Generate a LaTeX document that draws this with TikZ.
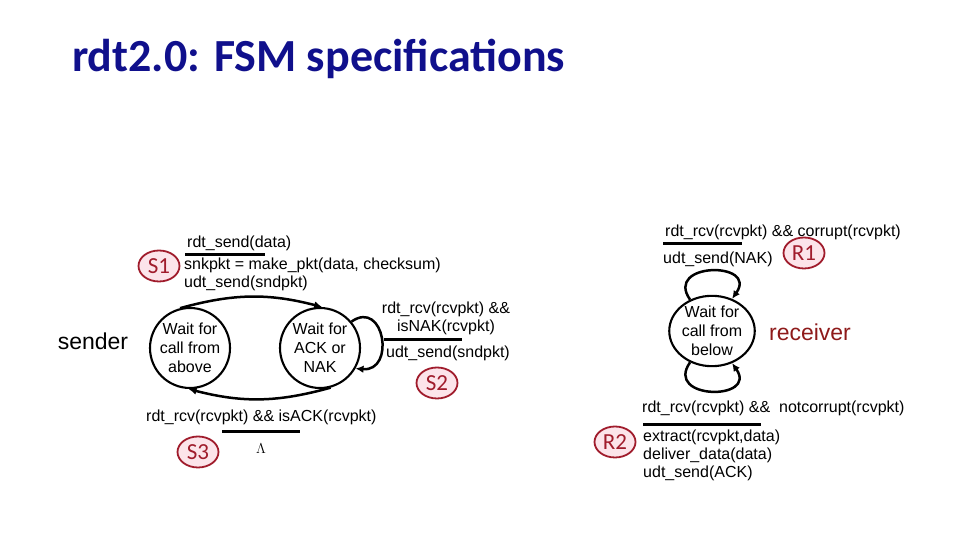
\documentclass[tikz,border=0pt]{standalone}
\usepackage{fontspec}
\setmainfont{Liberation Sans}
\newfontfamily\titlefont{Carlito}
\usepackage{xcolor}
\definecolor{ttl}{HTML}{10108C}
\definecolor{tagred}{HTML}{A01C2C}
\definecolor{tagpink}{HTML}{FCE4EA}
\definecolor{rcv}{HTML}{8E1A1A}
\usepackage{tikz}
\usetikzlibrary{arrows.meta,shapes.geometric}
\newcommand\lblsize{\fontsize{16}{18}\selectfont}
\newcommand\statesize{\fontsize{16}{19}\selectfont}
\tikzset{
  >={Latex[length=8pt,width=7.5pt]},
  state/.style={circle,draw,line width=2.1pt,minimum size=80pt,inner sep=0pt,align=center,font=\statesize},
  tag/.style={ellipse,draw=tagred,fill=tagpink,line width=1.8pt,minimum width=41pt,minimum height=31pt,inner sep=0pt,text=tagred,font=\titlefont\fontsize{23}{23}\selectfont},
  lab/.style={font=\lblsize,inner sep=0pt,align=left},
  bar/.style={line width=3pt},
  arr/.style={->,line width=2.5pt},
  side/.style={font=\fontsize{23}{23}\selectfont,inner sep=0pt},
}
\begin{document}
\begin{tikzpicture}[x=1pt,y=1pt]
\useasboundingbox (0,0) rectangle (960,540);
\node[anchor=base west,inner sep=0pt,text=ttl,font=\titlefont\bfseries\fontsize{46}{46}\selectfont] (title) at (72,468) {rdt2.0: FSM specifications};

% sender side
\node[side] (snd) at (93,199) {sender};
\node[state] (wfa) at (190,192) {Wait for\\call from\\above};
\node[state] (wack) at (320,192) {Wait for\\ACK or\\NAK};
\draw[arr] (wfa.104) to[bend left=15] (wack.87);
\draw[arr] (wack.-75) to[bend left=15] (wfa.-92);
\draw[arr] (wack.40) to[out=35,in=-5,looseness=2.2] (wack.-30);

\node[tag] (s1) at (159,274) {S1};
\node[lab,anchor=west] (g1) at (187,297) {rdt\_send(data)};
\draw[bar] ([xshift=-2pt,yshift=-3.5pt]g1.south west) -- ++(80,0);
\node[lab,anchor=west] (a1) at (184,266) {snkpkt = make\_pkt(data, checksum)\\udt\_send(sndpkt)};

\node[lab,align=center] (g2) at (446,221.5) {rdt\_rcv(rcvpkt) \&\&\\isNAK(rcvpkt)};
\draw[bar] ([xshift=2pt,yshift=-4pt]g2.south west) -- ++(78,0);
\node[lab,anchor=west] (a2) at (386,187) {udt\_send(sndpkt)};
\node[tag] (s2) at (437,157) {S2};

\node[lab,anchor=west] (g3) at (146,123) {rdt\_rcv(rcvpkt) \&\& isACK(rcvpkt)};
\draw[bar] ([xshift=76pt,yshift=-6.5pt]g3.south west) -- ++(78,0);
\node[font=\fontsize{14}{14}\selectfont,inner sep=0pt] (lam) at (261,91) {$\Lambda$};
\node[tag] (s3) at (198,88) {S3};

% receiver side
\node[side,text=rcv] (rcvr) at (810,208) {receiver};
\node[ellipse,draw,line width=2.1pt,minimum width=78pt,minimum height=70pt,inner sep=0pt,align=center,font=\statesize] (wfb) at (712,209) {Wait for\\call from\\below};
\draw[arr] (wfb.125) to[out=125,in=55,looseness=2.8] (wfb.58);
\draw[arr] (wfb.-125) to[out=-125,in=-55,looseness=2.8] (wfb.-58);

\node[lab,anchor=west] (g4) at (665,308) {rdt\_rcv(rcvpkt) \&\& corrupt(rcvpkt)};
\draw[bar] ([xshift=-2pt,yshift=-3.5pt]g4.south west) -- ++(79,0);
\node[lab,anchor=west] (a4) at (663,281) {udt\_send(NAK)};
\node[tag] (r1) at (804,287) {R1};

\node[lab,anchor=west] (g5) at (642,132) {rdt\_rcv(rcvpkt) \&\&\ \ notcorrupt(rcvpkt)};
\draw[bar] ([xshift=1pt,yshift=-8.5pt]g5.south west) -- ++(118,0);
\node[lab,anchor=west] (a5) at (643,85) {extract(rcvpkt,data)\\deliver\_data(data)\\udt\_send(ACK)};
\node[tag] (r2) at (615,98) {R2};
\end{tikzpicture}
\end{document}
